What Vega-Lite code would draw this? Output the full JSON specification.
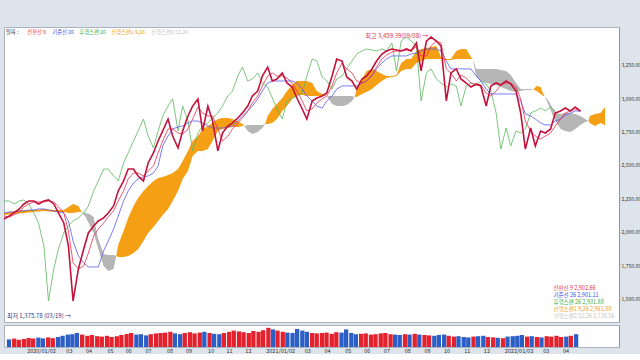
{
  "$schema": "https://vega.github.io/schema/vega-lite/v6.json",
  "background": "#dde4ec",
  "padding": {"left": 0, "top": 26, "right": 0, "bottom": 0},
  "spacing": 1,
  "config": {
    "font": "Noto Sans CJK KR",
    "view": {"fill": "#ffffff", "stroke": "#aab3bd", "strokeWidth": 1},
    "axis": {"labelFont": "Noto Sans CJK KR", "labelFontSize": 5, "labelColor": "#333333", "domainColor": "#8c96a0", "tickColor": "#8c96a0", "grid": false},
    "legend": {"labelFont": "Noto Sans CJK KR", "titleFont": "Noto Sans CJK KR"}
  },
  "resolve": {"scale": {"color": "independent", "fill": "independent"}, "legend": {"color": "independent", "fill": "independent"}},
  "datasets": {
    "price": [
      {"d":"2019-12-06","c":2097,"t":2119,"k":2142,"l":2231},
      {"d":"2019-12-14","c":2119,"t":2112,"k":2149,"l":2231},
      {"d":"2019-12-21","c":2142,"t":2127,"k":2149,"l":2209},
      {"d":"2019-12-29","c":2172,"t":2149,"k":2157,"l":2231},
      {"d":"2020-01-05","c":2209,"t":2187,"k":2157,"l":2239},
      {"d":"2020-01-12","c":2231,"t":2209,"k":2164,"l":2209},
      {"d":"2020-01-20","c":2231,"t":2224,"k":2164,"l":2142},
      {"d":"2020-01-27","c":2209,"t":2224,"k":2172,"l":2067},
      {"d":"2020-02-04","c":2231,"t":2224,"k":2172,"l":1896},
      {"d":"2020-02-11","c":2239,"t":2231,"k":2164,"l":1485},
      {"d":"2020-02-19","c":2209,"t":2224,"k":2157,"l":1724},
      {"d":"2020-02-26","c":2142,"t":2187,"k":2149,"l":1873},
      {"d":"2020-03-05","c":2067,"t":2142,"k":2142,"l":1993},
      {"d":"2020-03-12","c":1896,"t":2007,"k":2082,"l":2045},
      {"d":"2020-03-19","c":1485,"t":1769,"k":1933,"l":2082},
      {"d":"2020-03-27","c":1724,"t":1724,"k":1821,"l":2105},
      {"d":"2020-04-04","c":1873,"t":1746,"k":1769,"l":2142},
      {"d":"2020-04-11","c":1993,"t":1843,"k":1739,"l":2194},
      {"d":"2020-04-19","c":2045,"t":1970,"k":1739,"l":2306},
      {"d":"2020-04-26","c":2082,"t":2022,"k":1739,"l":2381},
      {"d":"2020-05-04","c":2105,"t":2067,"k":1858,"l":2470},
      {"d":"2020-05-11","c":2142,"t":2112,"k":1933,"l":2470},
      {"d":"2020-05-19","c":2194,"t":2157,"k":2022,"l":2418},
      {"d":"2020-05-26","c":2306,"t":2231,"k":2119,"l":2381},
      {"d":"2020-06-03","c":2381,"t":2306,"k":2231,"l":2515},
      {"d":"2020-06-10","c":2470,"t":2396,"k":2306,"l":2590},
      {"d":"2020-06-18","c":2470,"t":2440,"k":2366,"l":2679},
      {"d":"2020-06-25","c":2418,"t":2440,"k":2396,"l":2754},
      {"d":"2020-07-03","c":2381,"t":2418,"k":2411,"l":2843},
      {"d":"2020-07-10","c":2515,"t":2455,"k":2418,"l":2716},
      {"d":"2020-07-18","c":2590,"t":2493,"k":2440,"l":2627},
      {"d":"2020-07-25","c":2679,"t":2590,"k":2493,"l":2754},
      {"d":"2020-08-01","c":2754,"t":2679,"k":2642,"l":2866},
      {"d":"2020-08-09","c":2843,"t":2769,"k":2716,"l":2940},
      {"d":"2020-08-16","c":2716,"t":2769,"k":2769,"l":2993},
      {"d":"2020-08-24","c":2627,"t":2739,"k":2784,"l":2754},
      {"d":"2020-08-31","c":2754,"t":2731,"k":2791,"l":2940},
      {"d":"2020-09-08","c":2866,"t":2769,"k":2814,"l":2828},
      {"d":"2020-09-15","c":2940,"t":2843,"k":2828,"l":2605},
      {"d":"2020-09-23","c":2993,"t":2933,"k":2828,"l":2739},
      {"d":"2020-09-30","c":2754,"t":2888,"k":2814,"l":2791},
      {"d":"2020-10-08","c":2940,"t":2866,"k":2791,"l":2814},
      {"d":"2020-10-15","c":2828,"t":2866,"k":2776,"l":2851},
      {"d":"2020-10-23","c":2605,"t":2769,"k":2776,"l":2888},
      {"d":"2020-10-30","c":2739,"t":2679,"k":2776,"l":2940},
      {"d":"2020-11-07","c":2791,"t":2716,"k":2784,"l":3015},
      {"d":"2020-11-14","c":2814,"t":2769,"k":2791,"l":3052},
      {"d":"2020-11-22","c":2851,"t":2814,"k":2828,"l":3164},
      {"d":"2020-11-29","c":2888,"t":2851,"k":2866,"l":3231},
      {"d":"2020-12-07","c":2940,"t":2903,"k":2903,"l":3127},
      {"d":"2020-12-14","c":3015,"t":2963,"k":2940,"l":3142},
      {"d":"2020-12-22","c":3052,"t":3015,"k":2993,"l":3187},
      {"d":"2020-12-29","c":3164,"t":3090,"k":3052,"l":3112},
      {"d":"2021-01-06","c":3231,"t":3164,"k":3112,"l":3082},
      {"d":"2021-01-13","c":3127,"t":3187,"k":3127,"l":3000},
      {"d":"2021-01-20","c":3142,"t":3164,"k":3127,"l":2918},
      {"d":"2021-01-28","c":3187,"t":3164,"k":3127,"l":2843},
      {"d":"2021-02-04","c":3112,"t":3149,"k":3127,"l":2978},
      {"d":"2021-02-12","c":3082,"t":3112,"k":3127,"l":3000},
      {"d":"2021-02-19","c":3000,"t":3052,"k":3112,"l":3015},
      {"d":"2021-02-27","c":2918,"t":2978,"k":3067,"l":3037},
      {"d":"2021-03-06","c":2843,"t":2903,"k":3015,"l":3164},
      {"d":"2021-03-14","c":2978,"t":2918,"k":2978,"l":3291},
      {"d":"2021-03-21","c":3000,"t":2963,"k":2940,"l":3276},
      {"d":"2021-03-29","c":3015,"t":2993,"k":2925,"l":3157},
      {"d":"2021-04-05","c":3037,"t":3015,"k":2978,"l":3127},
      {"d":"2021-04-13","c":3164,"t":3090,"k":3015,"l":3067},
      {"d":"2021-04-20","c":3291,"t":3187,"k":3067,"l":3142},
      {"d":"2021-04-28","c":3276,"t":3261,"k":3090,"l":3164},
      {"d":"2021-05-05","c":3157,"t":3217,"k":3090,"l":3217},
      {"d":"2021-05-13","c":3127,"t":3187,"k":3090,"l":3276},
      {"d":"2021-05-20","c":3067,"t":3127,"k":3090,"l":3328},
      {"d":"2021-05-28","c":3142,"t":3112,"k":3112,"l":3351},
      {"d":"2021-06-04","c":3164,"t":3127,"k":3127,"l":3366},
      {"d":"2021-06-12","c":3217,"t":3172,"k":3164,"l":3358},
      {"d":"2021-06-19","c":3276,"t":3231,"k":3217,"l":3351},
      {"d":"2021-06-27","c":3328,"t":3291,"k":3261,"l":3366},
      {"d":"2021-07-04","c":3351,"t":3321,"k":3291,"l":3351},
      {"d":"2021-07-12","c":3366,"t":3343,"k":3314,"l":3411},
      {"d":"2021-07-19","c":3358,"t":3351,"k":3314,"l":3202},
      {"d":"2021-07-26","c":3351,"t":3351,"k":3314,"l":3425},
      {"d":"2021-08-03","c":3366,"t":3358,"k":3314,"l":3455},
      {"d":"2021-08-10","c":3351,"t":3358,"k":3328,"l":3425},
      {"d":"2021-08-18","c":3411,"t":3381,"k":3336,"l":3388},
      {"d":"2021-08-25","c":3202,"t":3314,"k":3351,"l":2978},
      {"d":"2021-09-02","c":3425,"t":3314,"k":3366,"l":3187},
      {"d":"2021-09-09","c":3455,"t":3388,"k":3366,"l":3217},
      {"d":"2021-09-17","c":3425,"t":3425,"k":3366,"l":3142},
      {"d":"2021-09-24","c":3388,"t":3411,"k":3351,"l":3112},
      {"d":"2021-10-02","c":2978,"t":3217,"k":3276,"l":3082},
      {"d":"2021-10-09","c":3187,"t":3187,"k":3217,"l":3105},
      {"d":"2021-10-17","c":3217,"t":3127,"k":3217,"l":3090},
      {"d":"2021-10-24","c":3142,"t":3172,"k":3217,"l":2940},
      {"d":"2021-11-01","c":3112,"t":3149,"k":3217,"l":3090},
      {"d":"2021-11-08","c":3082,"t":3112,"k":3217,"l":3112},
      {"d":"2021-11-16","c":3105,"t":3097,"k":3164,"l":3097},
      {"d":"2021-11-23","c":3090,"t":3097,"k":3127,"l":3127},
      {"d":"2021-12-01","c":2940,"t":3037,"k":3067,"l":3105},
      {"d":"2021-12-08","c":3090,"t":3015,"k":3030,"l":3052},
      {"d":"2021-12-16","c":3112,"t":3052,"k":3030,"l":2888},
      {"d":"2021-12-23","c":3097,"t":3097,"k":3030,"l":2619},
      {"d":"2021-12-31","c":3127,"t":3112,"k":3030,"l":2776},
      {"d":"2022-01-07","c":3105,"t":3112,"k":3030,"l":2642},
      {"d":"2022-01-15","c":3052,"t":3082,"k":3030,"l":2754},
      {"d":"2022-01-22","c":2888,"t":2993,"k":2978,"l":2739},
      {"d":"2022-01-29","c":2619,"t":2828,"k":2881,"l":2769},
      {"d":"2022-02-06","c":2776,"t":2754,"k":2866,"l":2888},
      {"d":"2022-02-13","c":2642,"t":2716,"k":2843,"l":2903},
      {"d":"2022-02-21","c":2754,"t":2694,"k":2814,"l":2925},
      {"d":"2022-02-28","c":2739,"t":2716,"k":2799,"l":2903},
      {"d":"2022-03-08","c":2769,"t":2739,"k":2799,"l":2933},
      {"d":"2022-03-15","c":2888,"t":2791,"k":2828,"l":2902},
      {"d":"2022-03-23","c":2903,"t":2843,"k":2843,"l":null},
      {"d":"2022-03-30","c":2925,"t":2888,"k":2873,"l":null},
      {"d":"2022-04-07","c":2903,"t":2903,"k":2888,"l":null},
      {"d":"2022-04-14","c":2933,"t":2918,"k":2903,"l":null},
      {"d":"2022-04-22","c":2902,"t":2903,"k":2901,"l":null}
    ],
    "cloud": [
      {"d":"2019-12-06","a":2142,"b":2127,"seg":1,"k":"up"},
      {"d":"2019-12-21","a":2157,"b":2134,"seg":1,"k":"up"},
      {"d":"2020-01-05","a":2164,"b":2142,"seg":1,"k":"up"},
      {"d":"2020-01-20","a":2164,"b":2149,"seg":1,"k":"up"},
      {"d":"2020-02-04","a":2172,"b":2157,"seg":1,"k":"up"},
      {"d":"2020-02-19","a":2164,"b":2149,"seg":1,"k":"up"},
      {"d":"2020-03-05","a":2164,"b":2149,"seg":1,"k":"up"},
      {"d":"2020-03-12","a":2187,"b":2142,"seg":1,"k":"up"},
      {"d":"2020-03-19","a":2209,"b":2142,"seg":1,"k":"up"},
      {"d":"2020-03-27","a":2194,"b":2149,"seg":1,"k":"up"},
      {"d":"2020-04-01","a":2149,"b":2149,"seg":1,"k":"up"},
      {"d":"2020-04-01","a":2149,"b":2149,"seg":2,"k":"dn"},
      {"d":"2020-04-07","a":2112,"b":2142,"seg":2,"k":"dn"},
      {"d":"2020-04-13","a":2052,"b":2134,"seg":2,"k":"dn"},
      {"d":"2020-04-19","a":1993,"b":2112,"seg":2,"k":"dn"},
      {"d":"2020-04-25","a":1888,"b":1963,"seg":2,"k":"dn"},
      {"d":"2020-05-04","a":1746,"b":1836,"seg":2,"k":"dn"},
      {"d":"2020-05-11","a":1709,"b":1828,"seg":2,"k":"dn"},
      {"d":"2020-05-19","a":1724,"b":1828,"seg":2,"k":"dn"},
      {"d":"2020-05-23","a":1821,"b":1821,"seg":2,"k":"dn"},
      {"d":"2020-05-23","a":1821,"b":1821,"seg":3,"k":"up"},
      {"d":"2020-05-26","a":1903,"b":1813,"seg":3,"k":"up"},
      {"d":"2020-06-03","a":2007,"b":1813,"seg":3,"k":"up"},
      {"d":"2020-06-10","a":2105,"b":1821,"seg":3,"k":"up"},
      {"d":"2020-06-18","a":2194,"b":1843,"seg":3,"k":"up"},
      {"d":"2020-06-25","a":2254,"b":1873,"seg":3,"k":"up"},
      {"d":"2020-07-03","a":2306,"b":1933,"seg":3,"k":"up"},
      {"d":"2020-07-10","a":2343,"b":1993,"seg":3,"k":"up"},
      {"d":"2020-07-18","a":2381,"b":2037,"seg":3,"k":"up"},
      {"d":"2020-07-25","a":2403,"b":2082,"seg":3,"k":"up"},
      {"d":"2020-08-01","a":2411,"b":2127,"seg":3,"k":"up"},
      {"d":"2020-08-09","a":2425,"b":2172,"seg":3,"k":"up"},
      {"d":"2020-08-16","a":2440,"b":2231,"seg":3,"k":"up"},
      {"d":"2020-08-24","a":2470,"b":2306,"seg":3,"k":"up"},
      {"d":"2020-08-31","a":2530,"b":2396,"seg":3,"k":"up"},
      {"d":"2020-09-08","a":2605,"b":2455,"seg":3,"k":"up"},
      {"d":"2020-09-15","a":2679,"b":2567,"seg":3,"k":"up"},
      {"d":"2020-09-23","a":2716,"b":2605,"seg":3,"k":"up"},
      {"d":"2020-09-30","a":2769,"b":2605,"seg":3,"k":"up"},
      {"d":"2020-10-08","a":2791,"b":2619,"seg":3,"k":"up"},
      {"d":"2020-10-15","a":2814,"b":2679,"seg":3,"k":"up"},
      {"d":"2020-10-23","a":2843,"b":2754,"seg":3,"k":"up"},
      {"d":"2020-10-30","a":2851,"b":2769,"seg":3,"k":"up"},
      {"d":"2020-11-07","a":2851,"b":2776,"seg":3,"k":"up"},
      {"d":"2020-11-14","a":2843,"b":2784,"seg":3,"k":"up"},
      {"d":"2020-11-22","a":2828,"b":2784,"seg":3,"k":"up"},
      {"d":"2020-11-29","a":2806,"b":2791,"seg":3,"k":"up"},
      {"d":"2020-12-02","a":2791,"b":2791,"seg":3,"k":"up"},
      {"d":"2020-12-02","a":2791,"b":2791,"seg":4,"k":"dn"},
      {"d":"2020-12-07","a":2754,"b":2799,"seg":4,"k":"dn"},
      {"d":"2020-12-14","a":2731,"b":2799,"seg":4,"k":"dn"},
      {"d":"2020-12-22","a":2746,"b":2799,"seg":4,"k":"dn"},
      {"d":"2020-12-29","a":2776,"b":2799,"seg":4,"k":"dn"},
      {"d":"2021-01-02","a":2806,"b":2806,"seg":4,"k":"dn"},
      {"d":"2021-01-02","a":2806,"b":2806,"seg":5,"k":"up"},
      {"d":"2021-01-06","a":2866,"b":2806,"seg":5,"k":"up"},
      {"d":"2021-01-13","a":2918,"b":2814,"seg":5,"k":"up"},
      {"d":"2021-01-20","a":2955,"b":2843,"seg":5,"k":"up"},
      {"d":"2021-01-28","a":3000,"b":2903,"seg":5,"k":"up"},
      {"d":"2021-02-04","a":3052,"b":2940,"seg":5,"k":"up"},
      {"d":"2021-02-12","a":3097,"b":2993,"seg":5,"k":"up"},
      {"d":"2021-02-19","a":3127,"b":3022,"seg":5,"k":"up"},
      {"d":"2021-02-27","a":3127,"b":3022,"seg":5,"k":"up"},
      {"d":"2021-03-06","a":3127,"b":3015,"seg":5,"k":"up"},
      {"d":"2021-03-14","a":3112,"b":3015,"seg":5,"k":"up"},
      {"d":"2021-03-21","a":3052,"b":3015,"seg":5,"k":"up"},
      {"d":"2021-03-29","a":3030,"b":3015,"seg":5,"k":"up"},
      {"d":"2021-04-05","a":3015,"b":3015,"seg":5,"k":"up"},
      {"d":"2021-04-05","a":3015,"b":3015,"seg":6,"k":"dn"},
      {"d":"2021-04-13","a":2955,"b":3015,"seg":6,"k":"dn"},
      {"d":"2021-04-20","a":2940,"b":3015,"seg":6,"k":"dn"},
      {"d":"2021-04-28","a":2940,"b":3015,"seg":6,"k":"dn"},
      {"d":"2021-05-05","a":2948,"b":3015,"seg":6,"k":"dn"},
      {"d":"2021-05-13","a":2978,"b":3015,"seg":6,"k":"dn"},
      {"d":"2021-05-17","a":3007,"b":3007,"seg":6,"k":"dn"},
      {"d":"2021-05-17","a":3007,"b":3007,"seg":7,"k":"up"},
      {"d":"2021-05-20","a":3067,"b":3007,"seg":7,"k":"up"},
      {"d":"2021-05-28","a":3142,"b":3030,"seg":7,"k":"up"},
      {"d":"2021-06-04","a":3202,"b":3045,"seg":7,"k":"up"},
      {"d":"2021-06-12","a":3217,"b":3067,"seg":7,"k":"up"},
      {"d":"2021-06-19","a":3202,"b":3097,"seg":7,"k":"up"},
      {"d":"2021-06-27","a":3179,"b":3127,"seg":7,"k":"up"},
      {"d":"2021-07-04","a":3164,"b":3149,"seg":7,"k":"up"},
      {"d":"2021-07-12","a":3164,"b":3157,"seg":7,"k":"up"},
      {"d":"2021-07-19","a":3172,"b":3164,"seg":7,"k":"up"},
      {"d":"2021-07-26","a":3261,"b":3202,"seg":7,"k":"up"},
      {"d":"2021-08-03","a":3291,"b":3217,"seg":7,"k":"up"},
      {"d":"2021-08-10","a":3291,"b":3217,"seg":7,"k":"up"},
      {"d":"2021-08-18","a":3351,"b":3261,"seg":7,"k":"up"},
      {"d":"2021-08-25","a":3366,"b":3276,"seg":7,"k":"up"},
      {"d":"2021-09-02","a":3373,"b":3291,"seg":7,"k":"up"},
      {"d":"2021-09-09","a":3381,"b":3291,"seg":7,"k":"up"},
      {"d":"2021-09-17","a":3388,"b":3291,"seg":7,"k":"up"},
      {"d":"2021-09-24","a":3306,"b":3291,"seg":7,"k":"up"},
      {"d":"2021-10-02","a":3291,"b":3284,"seg":7,"k":"up"},
      {"d":"2021-10-09","a":3291,"b":3284,"seg":7,"k":"up"},
      {"d":"2021-10-17","a":3351,"b":3291,"seg":7,"k":"up"},
      {"d":"2021-10-24","a":3366,"b":3291,"seg":7,"k":"up"},
      {"d":"2021-11-01","a":3366,"b":3291,"seg":7,"k":"up"},
      {"d":"2021-11-08","a":3306,"b":3291,"seg":7,"k":"up"},
      {"d":"2021-11-11","a":3291,"b":3291,"seg":7,"k":"up"},
      {"d":"2021-11-11","a":3291,"b":3291,"seg":8,"k":"dn"},
      {"d":"2021-11-16","a":3157,"b":3217,"seg":8,"k":"dn"},
      {"d":"2021-11-23","a":3127,"b":3217,"seg":8,"k":"dn"},
      {"d":"2021-12-01","a":3112,"b":3217,"seg":8,"k":"dn"},
      {"d":"2021-12-08","a":3105,"b":3217,"seg":8,"k":"dn"},
      {"d":"2021-12-16","a":3097,"b":3217,"seg":8,"k":"dn"},
      {"d":"2021-12-23","a":3082,"b":3209,"seg":8,"k":"dn"},
      {"d":"2021-12-31","a":3067,"b":3202,"seg":8,"k":"dn"},
      {"d":"2022-01-07","a":3052,"b":3172,"seg":8,"k":"dn"},
      {"d":"2022-01-15","a":3045,"b":3112,"seg":8,"k":"dn"},
      {"d":"2022-01-22","a":3052,"b":3067,"seg":8,"k":"dn"},
      {"d":"2022-01-29","a":3060,"b":3067,"seg":8,"k":"dn"},
      {"d":"2022-02-06","a":3060,"b":3067,"seg":8,"k":"dn"},
      {"d":"2022-02-10","a":3063,"b":3063,"seg":8,"k":"dn"},
      {"d":"2022-02-10","a":3063,"b":3063,"seg":9,"k":"up"},
      {"d":"2022-02-15","a":3090,"b":3052,"seg":9,"k":"up"},
      {"d":"2022-02-21","a":3082,"b":3030,"seg":9,"k":"up"},
      {"d":"2022-02-25","a":3030,"b":3015,"seg":9,"k":"up"},
      {"d":"2022-02-27","a":3015,"b":3015,"seg":9,"k":"up"},
      {"d":"2022-02-27","a":3015,"b":3015,"seg":10,"k":"dn"},
      {"d":"2022-03-05","a":2948,"b":2978,"seg":10,"k":"dn"},
      {"d":"2022-03-11","a":2873,"b":2925,"seg":10,"k":"dn"},
      {"d":"2022-03-17","a":2814,"b":2888,"seg":10,"k":"dn"},
      {"d":"2022-03-23","a":2769,"b":2881,"seg":10,"k":"dn"},
      {"d":"2022-03-30","a":2754,"b":2888,"seg":10,"k":"dn"},
      {"d":"2022-04-07","a":2746,"b":2888,"seg":10,"k":"dn"},
      {"d":"2022-04-14","a":2769,"b":2881,"seg":10,"k":"dn"},
      {"d":"2022-04-22","a":2799,"b":2866,"seg":10,"k":"dn"},
      {"d":"2022-04-29","a":2821,"b":2843,"seg":10,"k":"dn"},
      {"d":"2022-05-04","a":2828,"b":2828,"seg":10,"k":"dn"},
      {"d":"2022-05-04","a":2828,"b":2828,"seg":11,"k":"up"},
      {"d":"2022-05-06","a":2866,"b":2814,"seg":11,"k":"up"},
      {"d":"2022-05-14","a":2881,"b":2791,"seg":11,"k":"up"},
      {"d":"2022-05-22","a":2888,"b":2814,"seg":11,"k":"up"},
      {"d":"2022-05-28","a":2925,"b":2800,"seg":11,"k":"up"},
      {"d":"2022-05-29","a":2933,"b":2791,"seg":11,"k":"up"}
    ],
    "vol": [
      {"d":"2019-12-06","v":380,"u":"dn"},{"d":"2019-12-14","v":420,"u":"up"},{"d":"2019-12-21","v":360,"u":"up"},{"d":"2019-12-29","v":400,"u":"up"},
      {"d":"2020-01-05","v":450,"u":"up"},{"d":"2020-01-12","v":420,"u":"up"},{"d":"2020-01-20","v":470,"u":"dn"},{"d":"2020-01-27","v":430,"u":"dn"},
      {"d":"2020-02-04","v":480,"u":"up"},{"d":"2020-02-11","v":440,"u":"up"},{"d":"2020-02-19","v":500,"u":"dn"},{"d":"2020-02-26","v":560,"u":"dn"},
      {"d":"2020-03-05","v":620,"u":"dn"},{"d":"2020-03-12","v":640,"u":"dn"},{"d":"2020-03-19","v":700,"u":"dn"},{"d":"2020-03-27","v":620,"u":"up"},
      {"d":"2020-04-04","v":560,"u":"up"},{"d":"2020-04-11","v":600,"u":"up"},{"d":"2020-04-19","v":540,"u":"up"},{"d":"2020-04-26","v":520,"u":"up"},
      {"d":"2020-05-04","v":560,"u":"up"},{"d":"2020-05-11","v":500,"u":"up"},{"d":"2020-05-19","v":540,"u":"up"},{"d":"2020-05-26","v":600,"u":"up"},
      {"d":"2020-06-03","v":650,"u":"up"},{"d":"2020-06-10","v":700,"u":"up"},{"d":"2020-06-18","v":620,"u":"dn"},{"d":"2020-06-25","v":640,"u":"dn"},
      {"d":"2020-07-03","v":580,"u":"dn"},{"d":"2020-07-10","v":640,"u":"up"},{"d":"2020-07-18","v":680,"u":"up"},{"d":"2020-07-25","v":700,"u":"up"},
      {"d":"2020-08-01","v":720,"u":"up"},{"d":"2020-08-09","v":760,"u":"up"},{"d":"2020-08-16","v":680,"u":"dn"},{"d":"2020-08-24","v":640,"u":"dn"},
      {"d":"2020-08-31","v":700,"u":"up"},{"d":"2020-09-08","v":740,"u":"up"},{"d":"2020-09-15","v":680,"u":"up"},{"d":"2020-09-23","v":720,"u":"up"},
      {"d":"2020-09-30","v":760,"u":"dn"},{"d":"2020-10-08","v":700,"u":"up"},{"d":"2020-10-15","v":660,"u":"dn"},{"d":"2020-10-23","v":640,"u":"dn"},
      {"d":"2020-10-30","v":700,"u":"up"},{"d":"2020-11-07","v":760,"u":"up"},{"d":"2020-11-14","v":820,"u":"up"},{"d":"2020-11-22","v":780,"u":"up"},
      {"d":"2020-11-29","v":740,"u":"up"},{"d":"2020-12-07","v":700,"u":"up"},{"d":"2020-12-14","v":800,"u":"up"},{"d":"2020-12-22","v":760,"u":"up"},
      {"d":"2020-12-29","v":840,"u":"up"},{"d":"2021-01-06","v":960,"u":"up"},{"d":"2021-01-13","v":880,"u":"dn"},{"d":"2021-01-20","v":820,"u":"up"},
      {"d":"2021-01-28","v":760,"u":"up"},{"d":"2021-02-04","v":720,"u":"dn"},{"d":"2021-02-12","v":700,"u":"dn"},{"d":"2021-02-19","v":900,"u":"dn"},
      {"d":"2021-02-27","v":820,"u":"dn"},{"d":"2021-03-06","v":760,"u":"dn"},{"d":"2021-03-14","v":700,"u":"up"},{"d":"2021-03-21","v":680,"u":"up"},
      {"d":"2021-03-29","v":700,"u":"up"},{"d":"2021-04-05","v":720,"u":"up"},{"d":"2021-04-13","v":660,"u":"up"},{"d":"2021-04-20","v":740,"u":"up"},
      {"d":"2021-04-28","v":720,"u":"dn"},{"d":"2021-05-05","v":880,"u":"dn"},{"d":"2021-05-13","v":700,"u":"dn"},{"d":"2021-05-20","v":640,"u":"dn"},
      {"d":"2021-05-28","v":660,"u":"up"},{"d":"2021-06-04","v":680,"u":"up"},{"d":"2021-06-12","v":620,"u":"up"},{"d":"2021-06-19","v":640,"u":"up"},
      {"d":"2021-06-27","v":680,"u":"up"},{"d":"2021-07-04","v":700,"u":"up"},{"d":"2021-07-12","v":640,"u":"up"},{"d":"2021-07-19","v":620,"u":"dn"},
      {"d":"2021-07-26","v":600,"u":"dn"},{"d":"2021-08-03","v":640,"u":"up"},{"d":"2021-08-10","v":620,"u":"dn"},{"d":"2021-08-18","v":660,"u":"up"},
      {"d":"2021-08-25","v":620,"u":"dn"},{"d":"2021-09-02","v":600,"u":"up"},{"d":"2021-09-09","v":580,"u":"up"},{"d":"2021-09-17","v":560,"u":"dn"},
      {"d":"2021-09-24","v":600,"u":"dn"},{"d":"2021-10-02","v":620,"u":"dn"},{"d":"2021-10-09","v":560,"u":"up"},{"d":"2021-10-17","v":520,"u":"up"},
      {"d":"2021-10-24","v":540,"u":"dn"},{"d":"2021-11-01","v":500,"u":"dn"},{"d":"2021-11-08","v":480,"u":"dn"},{"d":"2021-11-16","v":520,"u":"up"},
      {"d":"2021-11-23","v":540,"u":"dn"},{"d":"2021-12-01","v":560,"u":"dn"},{"d":"2021-12-08","v":500,"u":"up"},{"d":"2021-12-16","v":480,"u":"up"},
      {"d":"2021-12-23","v":460,"u":"dn"},{"d":"2021-12-31","v":440,"u":"up"},{"d":"2022-01-07","v":520,"u":"dn"},{"d":"2022-01-15","v":540,"u":"dn"},
      {"d":"2022-01-22","v":560,"u":"dn"},{"d":"2022-01-29","v":600,"u":"dn"},{"d":"2022-02-06","v":520,"u":"up"},{"d":"2022-02-13","v":540,"u":"dn"},
      {"d":"2022-02-21","v":500,"u":"up"},{"d":"2022-02-28","v":480,"u":"dn"},{"d":"2022-03-08","v":540,"u":"up"},{"d":"2022-03-15","v":520,"u":"up"},
      {"d":"2022-03-23","v":560,"u":"up"},{"d":"2022-03-30","v":500,"u":"up"},{"d":"2022-04-07","v":520,"u":"dn"},{"d":"2022-04-14","v":560,"u":"up"},
      {"d":"2022-04-22","v":640,"u":"dn"}
    ],
    "ann": [
      {"d":"2021-09-08","v":3459.39,"lab":"최고 3,459.39(09/08) →"},
      {"d":"2020-03-19","v":1375.78,"lab":"최저 1,375.78 (03/19) →"}
    ],
    "cur": [{"code":"1"},{"code":"2"},{"code":"3"},{"code":"4"},{"code":"5"}]
  },
  "vconcat": [
    {
      "width": 615,
      "height": 295,
      "view": {"fill": "#ffffff", "stroke": "#aab3bd"},
      "layer": [
        {
          "data": {"name": "cloud"},
          "transform": [{"filter": "datum.k == 'dn'"}],
          "mark": {"type": "area", "color": "#b6b6b6", "opacity": 1},
          "encoding": {
            "x": {"field": "d", "type": "temporal", "scale": {"domain": [{"year": 2019, "month": 12, "date": 6, "utc": true}, {"year": 2022, "month": 6, "date": 19, "utc": true}]}, "axis": null},
            "y": {"field": "a", "type": "quantitative", "scale": {"domain": [1328, 3530], "nice": false, "zero": false}, "axis": {"orient": "right", "values": [1500, 1750, 2000, 2250, 2500, 2750, 3000, 3250], "format": ",.2f", "title": null, "tickSize": 1, "labelPadding": 1}},
            "y2": {"field": "b"},
            "detail": {"field": "seg", "type": "nominal"}
          }
        },
        {
          "data": {"name": "cloud"},
          "transform": [{"filter": "datum.k == 'up'"}],
          "mark": {"type": "area", "color": "#f5a014", "opacity": 1},
          "encoding": {
            "x": {"field": "d", "type": "temporal", "scale": {"domain": [{"year": 2019, "month": 12, "date": 6, "utc": true}, {"year": 2022, "month": 6, "date": 19, "utc": true}]}, "axis": null},
            "y": {"field": "a", "type": "quantitative", "scale": {"domain": [1328, 3530], "nice": false, "zero": false}, "axis": {"orient": "right", "values": [1500, 1750, 2000, 2250, 2500, 2750, 3000, 3250], "format": ",.2f", "title": null, "tickSize": 1, "labelPadding": 1}},
            "y2": {"field": "b"},
            "detail": {"field": "seg", "type": "nominal"}
          }
        },
        {
          "data": {"name": "price"},
          "transform": [{"fold": ["l", "k", "t"], "as": ["s", "v"]}],
          "mark": {"type": "line", "strokeWidth": 0.8},
          "encoding": {
            "x": {"field": "d", "type": "temporal", "scale": {"domain": [{"year": 2019, "month": 12, "date": 6, "utc": true}, {"year": 2022, "month": 6, "date": 19, "utc": true}]}, "axis": null},
            "y": {"field": "v", "type": "quantitative", "scale": {"domain": [1328, 3530], "nice": false, "zero": false}, "axis": {"orient": "right", "values": [1500, 1750, 2000, 2250, 2500, 2750, 3000, 3250], "format": ",.2f", "title": null, "tickSize": 1, "labelPadding": 1}},
            "color": {
              "field": "s", "type": "nominal",
              "scale": {"domain": ["t", "k", "l", "a", "b"], "range": ["#ee2f4c", "#5a5af0", "#5cb85c", "#f5a014", "#c4c4c4"]},
              "legend": {
                "orient": "top-left", "direction": "horizontal", "title": "일목 :", "titleOrient": "left",
                "titleFontSize": 5.3, "titleFontWeight": "normal", "titleColor": "#333333", "titlePadding": 3,
                "labelFontSize": 5.3, "columnPadding": 0, "symbolSize": 0, "symbolOpacity": 0, "symbolStrokeWidth": 0,
                "labelOffset": 0, "offset": 2, "padding": 0,
                "labelExpr": "datum.label == 't' ? '전환선 9' : datum.label == 'k' ? '기준선 26' : datum.label == 'l' ? '후행스팬 26' : datum.label == 'a' ? '선행스팬1 9,26' : '선행스팬2 52,26'",
                "encode": {"labels": {"update": {"fill": {"signal": "datum.value == 't' ? '#ee2f4c' : datum.value == 'k' ? '#4848e8' : datum.value == 'l' ? '#3caa3c' : datum.value == 'a' ? '#f0a020' : '#c4c4c4'"}}}}
              }
            }
          }
        },
        {
          "data": {"name": "price"},
          "mark": {"type": "line", "color": "#c3123c", "strokeWidth": 1.6},
          "encoding": {
            "x": {"field": "d", "type": "temporal", "scale": {"domain": [{"year": 2019, "month": 12, "date": 6, "utc": true}, {"year": 2022, "month": 6, "date": 19, "utc": true}]}, "axis": null},
            "y": {"field": "c", "type": "quantitative", "scale": {"domain": [1328, 3530], "nice": false, "zero": false}, "axis": {"orient": "right", "values": [1500, 1750, 2000, 2250, 2500, 2750, 3000, 3250], "format": ",.2f", "title": null, "tickSize": 1, "labelPadding": 1}}
          }
        },
        {
          "data": {"name": "ann"},
          "mark": {"type": "text", "align": "right", "baseline": "middle", "dx": -2, "fontSize": 6},
          "encoding": {
            "x": {"field": "d", "type": "temporal", "scale": {"domain": [{"year": 2019, "month": 12, "date": 6, "utc": true}, {"year": 2022, "month": 6, "date": 19, "utc": true}]}, "axis": null},
            "y": {"field": "v", "type": "quantitative", "scale": {"domain": [1328, 3530], "nice": false, "zero": false}, "axis": {"orient": "right", "values": [1500, 1750, 2000, 2250, 2500, 2750, 3000, 3250], "format": ",.2f", "title": null, "tickSize": 1, "labelPadding": 1}},
            "text": {"field": "lab"},
            "color": {"condition": {"test": "datum.v > 3000", "value": "#e0304e"}, "value": "#2a3a8c"}
          }
        },
        {
          "data": {"name": "cur"},
          "mark": {"type": "point", "opacity": 0, "filled": true, "size": 0},
          "encoding": {
            "fill": {
              "field": "code", "type": "nominal",
              "scale": {"domain": ["1", "2", "3", "4", "5"], "range": ["#ee2f4c", "#4848e8", "#3caa3c", "#f0a020", "#c4c4c4"]},
              "legend": {
                "orient": "bottom-right", "title": null, "direction": "vertical",
                "symbolSize": 0, "symbolOpacity": 0, "symbolStrokeWidth": 0,
                "labelFontSize": 5.5, "rowPadding": -0.5, "offset": 2, "padding": 0, "labelOffset": 0,
                "labelExpr": "datum.label == '1' ? '전환선 9   2,902.66' : datum.label == '2' ? '기준선 26   2,901.11' : datum.label == '3' ? '후행스팬 26   2,931.88' : datum.label == '4' ? '선행스팬1 9,26   2,961.88' : '선행스팬2 52,26   2,730.56'",
                "encode": {"labels": {"update": {"fill": {"signal": "datum.value == '1' ? '#ee2f4c' : datum.value == '2' ? '#4848e8' : datum.value == '3' ? '#3caa3c' : datum.value == '4' ? '#f0a020' : '#c4c4c4'"}}}}
              }
            }
          }
        }
      ]
    },
    {
      "width": 615,
      "height": 22,
      "view": {"fill": "#ffffff", "stroke": "#aab3bd"},
      "data": {"name": "vol"},
      "mark": {"type": "bar", "width": 4.3},
      "encoding": {
        "x": {
          "field": "d", "type": "temporal",
          "scale": {"domain": [{"year": 2019, "month": 12, "date": 6, "utc": true}, {"year": 2022, "month": 6, "date": 19, "utc": true}]},
          "axis": {
            "orient": "bottom", "title": null, "domain": false, "ticks": false, "tickSize": 0, "labelPadding": 1, "labelAlign": "left", "labelBaseline": "top", "labelFontSize": 5.5, "labelOverlap": false, "labelFlush": false,
            "values": [
              {"year": 2020, "month": 1, "date": 2, "utc": true}, {"year": 2020, "month": 3, "date": 2, "utc": true}, {"year": 2020, "month": 4, "date": 1, "utc": true},
              {"year": 2020, "month": 5, "date": 4, "utc": true}, {"year": 2020, "month": 6, "date": 1, "utc": true}, {"year": 2020, "month": 7, "date": 1, "utc": true},
              {"year": 2020, "month": 8, "date": 3, "utc": true}, {"year": 2020, "month": 9, "date": 1, "utc": true}, {"year": 2020, "month": 10, "date": 5, "utc": true},
              {"year": 2020, "month": 11, "date": 2, "utc": true}, {"year": 2020, "month": 12, "date": 1, "utc": true}, {"year": 2021, "month": 1, "date": 2, "utc": true},
              {"year": 2021, "month": 3, "date": 2, "utc": true}, {"year": 2021, "month": 4, "date": 1, "utc": true}, {"year": 2021, "month": 5, "date": 3, "utc": true},
              {"year": 2021, "month": 6, "date": 1, "utc": true}, {"year": 2021, "month": 7, "date": 1, "utc": true}, {"year": 2021, "month": 8, "date": 2, "utc": true},
              {"year": 2021, "month": 9, "date": 1, "utc": true}, {"year": 2021, "month": 10, "date": 1, "utc": true}, {"year": 2021, "month": 11, "date": 1, "utc": true},
              {"year": 2021, "month": 12, "date": 1, "utc": true}, {"year": 2022, "month": 1, "date": 2, "utc": true}, {"year": 2022, "month": 3, "date": 2, "utc": true},
              {"year": 2022, "month": 4, "date": 1, "utc": true}
            ],
            "labelExpr": "utcmonth(datum.value) == 0 ? utcFormat(datum.value, '%Y/%m/%d') : utcFormat(datum.value, '%m')"
          }
        },
        "y": {"field": "v", "type": "quantitative", "scale": {"domain": [0, 1100], "nice": false}, "axis": {"orient": "right", "labels": false, "ticks": false, "title": null}},
        "color": {"condition": {"test": "datum.u == 'up'", "value": "#e3222e"}, "value": "#2b5fc6"}
      }
    }
  ]
}
